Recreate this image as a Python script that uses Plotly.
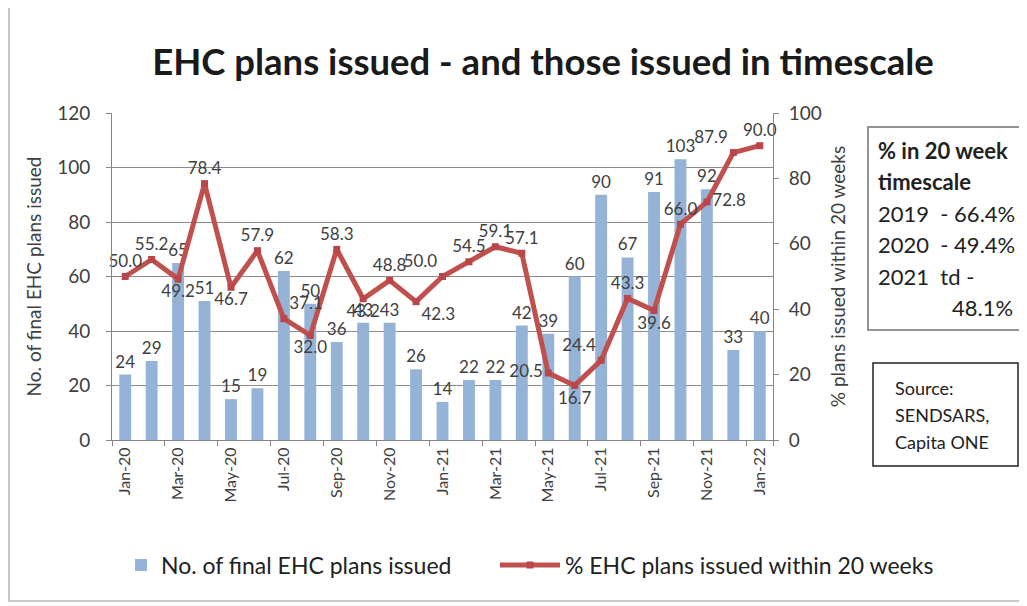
import plotly.graph_objects as go

months = ["Jan-20", "Feb-20", "Mar-20", "Apr-20", "May-20", "Jun-20", "Jul-20", "Aug-20",
          "Sep-20", "Oct-20", "Nov-20", "Dec-20", "Jan-21", "Feb-21", "Mar-21", "Apr-21",
          "May-21", "Jun-21", "Jul-21", "Aug-21", "Sep-21", "Oct-21", "Nov-21", "Dec-21", "Jan-22"]
plans_issued = [24, 29, 65, 51, 15, 19, 62, 50, 36, 43, 43, 26, 14, 22, 22, 42,
                39, 60, 90, 67, 91, 103, 92, 33, 40]
pct_in_20_weeks = [50.0, 55.2, 49.2, 78.4, 46.7, 57.9, 37.1, 32.0, 58.3, 43.2, 48.8, 42.3, 50.0,
                   54.5, 59.1, 57.1, 20.5, 16.7, 24.4, 43.3, 39.6, 66.0, 72.8, 87.9, 90.0]
line_label_pos = ["top center", "top center", "bottom center", "top center", "bottom center",
                  "top center", "top right", "bottom center", "top center", "bottom center",
                  "top center", "bottom right", "top left", "top center", "top center",
                  "top center", "middle left", "bottom center", "top left", "top center",
                  "bottom center", "top center", "middle right", "top left", "top center"]
tick_labels = months[::2]

box1_lines = ["<b>% in 20 week</b>", "<b>timescale</b>", "2019  - 66.4%", "2020  - 49.4%", "2021  td -"]
box1_last = "48.1%"
box2_lines = ["Source:", "SENDSARS,", "Capita ONE"]

FONT = "Lato"
TXT = "#404040"

# page body has an 8px margin: figure drawn 8px smaller, coordinates below in window pixels
OFF = 8
FW, FH = 1027 - OFF, 606 - OFF
L, R, T, B = 112, 773, 113, 440  # plot area in window pixels
W, H = R - L, B - T


def px_x(p):
    return (p - L) / W


def px_y(p):
    return (B - p) / H


fig = go.Figure()
fig.add_trace(go.Bar(
    x=months, y=plans_issued, name="No. of final EHC plans issued", showlegend=True,
    marker=dict(color="#95B3D7", line=dict(width=0)), width=0.45,
    text=plans_issued, textposition="outside", cliponaxis=False, constraintext="none",
    textfont=dict(family=FONT, size=17, color=TXT), yaxis="y", legend="legend",
))
fig.add_trace(go.Scatter(
    x=months, y=pct_in_20_weeks, name="% EHC plans issued within 20 weeks", showlegend=True,
    mode="lines+markers+text", yaxis="y2", legend="legend2",
    line=dict(color="#C0504D", width=5),
    marker=dict(symbol="square", size=7, color="#B9464A"),
    text=[f"{v:.1f}" for v in pct_in_20_weeks], textposition=line_label_pos,
    textfont=dict(family=FONT, size=17, color=TXT), cliponaxis=False,
))

fig.update_layout(
    width=FW, height=FH, showlegend=True,
    margin=dict(l=L - OFF, r=FW - (R - OFF), t=T - OFF, b=FH - (B - OFF), autoexpand=False),
    paper_bgcolor="white", plot_bgcolor="white",
    font=dict(family=FONT, color=TXT),
    title=dict(text="<b>EHC plans issued - and those issued in timescale</b>",
               x=(543 - OFF) / FW, xanchor="center", y=1 - (62 - OFF) / FH, yanchor="middle",
               font=dict(family=FONT, size=36.5, color="#1a1a1a")),
    xaxis=dict(type="category", tickmode="array", tickvals=tick_labels, ticktext=tick_labels,
               tickangle=-90, tickfont=dict(family=FONT, size=16, color=TXT),
               showline=True, linecolor="#868686", linewidth=1,
               ticks="outside", ticklen=5, tickcolor="#868686", tickson="boundaries",
               showgrid=False, range=[-0.5, 24.5]),
    yaxis=dict(range=[0, 120], dtick=20, showgrid=True, gridcolor="#8c8c8c", gridwidth=1,
               showline=True, linecolor="#868686", ticks="outside", ticklen=5, tickcolor="#868686",
               ticklabelstandoff=12,
               tickfont=dict(family=FONT, size=19, color=TXT), zeroline=False,
               title=dict(text="No. of final EHC plans issued", standoff=10,
                          font=dict(family=FONT, size=19, color=TXT))),
    yaxis2=dict(range=[0, 100], dtick=20, overlaying="y", side="right", showgrid=False,
                showline=True, linecolor="#868686", ticks="outside", ticklen=5, tickcolor="#868686",
                ticklabelstandoff=6, zeroline=False,
                tickfont=dict(family=FONT, size=19, color=TXT),
                title=dict(text="% plans issued within 20 weeks", standoff=10,
                           font=dict(family=FONT, size=19, color=TXT))),
    legend=dict(orientation="h", x=px_x(121), xanchor="left",
                y=px_y(565), yanchor="middle", itemwidth=30,
                font=dict(family=FONT, size=23, color="#222")),
    legend2=dict(orientation="h", x=px_x(495), xanchor="left",
                 y=px_y(565), yanchor="middle", itemwidth=60,
                 font=dict(family=FONT, size=23, color="#222")),
)

# outer chart frame
fig.add_shape(type="rect", xref="paper", yref="paper",
              x0=px_x(9), x1=px_x(1021), y0=px_y(601), y1=px_y(7),
              line=dict(color="#C8C8C8", width=2), fillcolor="rgba(0,0,0,0)", layer="below")

# text box 1
fig.add_shape(type="rect", xref="paper", yref="paper",
              x0=px_x(868), x1=px_x(1023), y0=px_y(330), y1=px_y(127),
              line=dict(color="#707070", width=1.5), fillcolor="white")
for i, t in enumerate(box1_lines):
    fig.add_annotation(xref="paper", yref="paper", x=px_x(876), y=px_y(150 + i * 31.5),
                       text=t, showarrow=False, xanchor="left", yanchor="middle",
                       font=dict(family=FONT, size=22, color="#222"))
fig.add_annotation(xref="paper", yref="paper", x=px_x(1015), y=px_y(150 + 5 * 31.5),
                   text=box1_last, showarrow=False, xanchor="right", yanchor="middle",
                   font=dict(family=FONT, size=22, color="#222"))

# text box 2
fig.add_shape(type="rect", xref="paper", yref="paper",
              x0=px_x(873), x1=px_x(1018), y0=px_y(466), y1=px_y(363),
              line=dict(color="#222", width=1.5), fillcolor="white")
for i, t in enumerate(box2_lines):
    fig.add_annotation(xref="paper", yref="paper", x=px_x(893), y=px_y(388 + i * 27),
                       text=t, showarrow=False, xanchor="left", yanchor="middle",
                       font=dict(family=FONT, size=18, color="#222"))

fig.write_html("out.html")
